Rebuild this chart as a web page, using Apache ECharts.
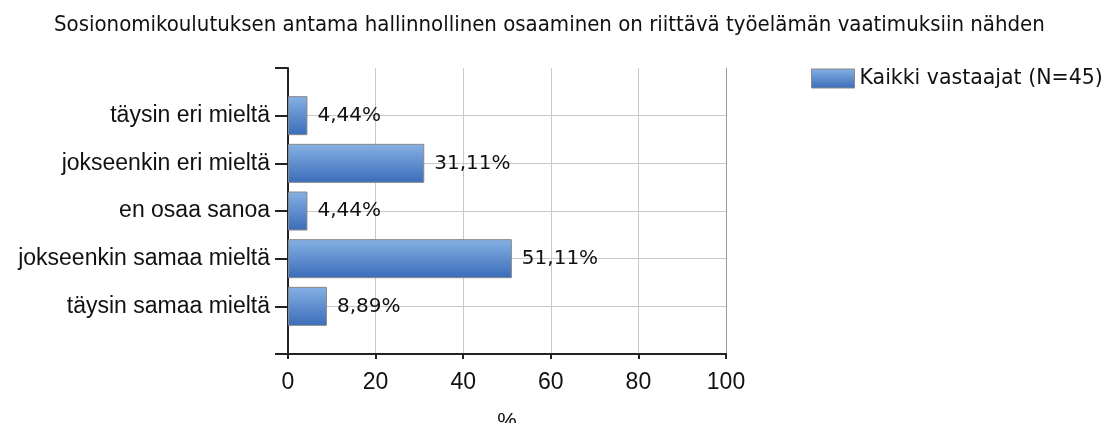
<!DOCTYPE html>
<html><head><meta charset="utf-8">
<script src="https://cdn.jsdelivr.net/npm/echarts@6/dist/echarts.min.js"></script>
<style>html,body{margin:0;padding:0;background:#fff}#c{width:1108px;height:423px}</style>
</head><body><div id="c"></div>
<script>
const titleText = 'Sosionomikoulutuksen antama hallinnollinen osaaminen on riittävä työelämän vaatimuksiin nähden';
const seriesName = 'Kaikki vastaajat (N=45)';
const categories = ['täysin eri mieltä','jokseenkin eri mieltä','en osaa sanoa','jokseenkin samaa mieltä','täysin samaa mieltä'];
const values = [4.44, 31.11, 4.44, 51.11, 8.89];
const xTicks = [0, 20, 40, 60, 80, 100];

const yData = [''].concat(categories, ['']);
const sData = [null].concat(values, [null]);

const chart = echarts.init(document.getElementById('c'), null, {renderer:'canvas'});
const barColor = new echarts.graphic.LinearGradient(0,0,0,1,[
  {offset:0,color:'#86b1e4'},{offset:1,color:'#3a6cb9'}]);
const hSplit = yData.map((d,i)=> (i===0 || i===yData.length-1) ? 'rgba(0,0,0,0)' : '#c8c8c8');
const vSplit = xTicks.map((d,i)=> i===xTicks.length-1 ? '#9a9a9a' : '#c8c8c8');
chart.setOption({
  animation:false,
  title:{text:titleText,left:49,top:9,textStyle:{fontFamily:'DejaVu Sans Condensed',fontSize:22,fontWeight:'normal',color:'#111'}},
  legend:{left:806,top:63,itemWidth:43,itemHeight:19,itemGap:8,
    textStyle:{fontFamily:'DejaVu Sans',fontSize:20.5,color:'#111'},
    data:[{name:seriesName,icon:'rect',itemStyle:{color:barColor,borderColor:'#888',borderWidth:1}}]},
  grid:{left:288,right:382,top:68,bottom:69,containLabel:false,outerBoundsMode:'none'},
  xAxis:{type:'value',min:xTicks[0],max:xTicks[xTicks.length-1],interval:20,
    name:'%',nameLocation:'middle',nameGap:57,
    nameTextStyle:{fontFamily:'Liberation Sans',fontSize:22,color:'#111'},
    axisLine:{show:true,lineStyle:{color:'#222',width:2}},
    axisTick:{show:true,length:5,lineStyle:{color:'#222',width:2}},
    axisLabel:{fontFamily:'Liberation Sans',fontSize:23,color:'#111',margin:17},
    splitLine:{show:true,lineStyle:{color:vSplit,width:1}}},
  yAxis:{type:'category',data:yData,inverse:true,boundaryGap:false,
    axisLine:{show:true,lineStyle:{color:'#222',width:2}},
    axisTick:{show:true,length:13,inside:false,lineStyle:{color:'#222',width:2}},
    axisLabel:{fontFamily:'Liberation Sans',fontSize:23,color:'#111',margin:18},
    splitLine:{show:true,lineStyle:{color:hSplit,width:1}}},
  series:[{type:'bar',name:seriesName,data:sData,barWidth:39,
    itemStyle:{color:barColor,borderColor:'#888',borderWidth:1},
    label:{show:true,position:'right',distance:10,fontFamily:'DejaVu Sans',fontSize:20,color:'#111',
      formatter:p=>p.value.toFixed(2).replace('.',',')+'%'}}]
});
</script></body></html>
